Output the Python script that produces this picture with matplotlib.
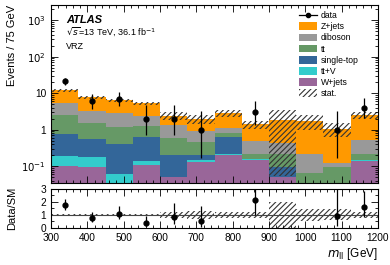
import numpy as np
import matplotlib
matplotlib.use("Agg")
from matplotlib import pyplot as plt
from matplotlib.patches import Patch
from matplotlib.lines import Line2D
from matplotlib.ticker import FixedLocator, MultipleLocator, LogLocator, NullFormatter

plt.rcParams['font.family'] = ['Liberation Sans', 'DejaVu Sans']
plt.rcParams['hatch.linewidth'] = 0.8

# binning (GeV)
edges = np.arange(300, 1201, 75)
centers = 0.5 * (edges[:-1] + edges[1:])

# backgrounds, bottom of the stack first
wjets   = [0.10, 0.092, 0.01, 0.107, 0.051, 0.13, 0.20, 0.15, 0.051, 0.0, 0.0, 0.14]
ttv     = [0.09, 0.088, 0.052, 0.033, 0.0, 0.016, 0.01, 0.01, 0.0, 0.0, 0.0, 0.01]
singtop = [0.56, 0.37, 0.34, 0.50, 0.15, 0.054, 0.43, 0.0, 0.045, 0.0, 0.0, 0.0]
ttbar   = [1.75, 0.99, 0.79, 0.63, 0.37, 0.26, 0.18, 0.05, 0.114, 0.063, 0.096, 0.07]
diboson = [2.7, 1.66, 1.59, 1.12, 0.76, 0.45, 0.30, 0.27, 0.21, 0.157, 0.027, 0.30]
zjets   = [6.8, 4.4, 3.6, 2.8, 1.07, 1.09, 1.78, 0.92, 1.38, 1.53, 0.93, 1.98]
stat_rel = [0.08, 0.08, 0.09, 0.10, 0.25, 0.28, 0.22, 0.25, 0.97, 0.45, 0.42, 0.22]

data    = [21, 6, 7, 2, 2, 1, 0, 3, 0, 0, 1, 4]
err_lo  = [4.55, 2.38, 2.58, 1.29, 1.29, 0.83, 0, 1.63, 0, 0, 0.83, 1.91]
err_hi  = [5.62, 3.58, 3.77, 2.64, 2.64, 2.30, 0, 2.92, 0, 0, 2.30, 3.16]

names  = ['W+jets', 'tt+V', 'single-top', 'tt', 'diboson', 'Z+jets']
colors = ['#996699', '#33cccc', '#336699', '#669966', '#999999', '#ff9900']
samples = [wjets, ttv, singtop, ttbar, diboson, zjets]

fig = plt.figure(figsize=(3.9, 2.65), dpi=100)
ax = fig.add_axes([0.131, 0.309, 0.838, 0.672])
rx = fig.add_axes([0.131, 0.140, 0.838, 0.147])

bottom = np.zeros(len(centers))
for vals, c in zip(samples, colors):
    ax.bar(edges[:-1], vals, width=75, bottom=bottom, align='edge', color=c, linewidth=0)
    bottom = bottom + np.array(vals)
total = bottom

hcol = '#333333'
rel = np.array(stat_rel)
ax.bar(edges[:-1], 2 * rel * total, width=75, bottom=total * (1 - rel), align='edge',
       fill=False, hatch='//////', edgecolor=hcol, linewidth=0)

d = np.array(data, dtype=float)
m = d > 0
ax.errorbar(centers[m], d[m], yerr=[np.array(err_lo)[m], np.array(err_hi)[m]],
            fmt='o', color='black', ms=3.5, elinewidth=0.9, capsize=0)

ax.set_yscale('log')
ax.set_xlim(300, 1200)
ax.set_ylim(0.034, 2600)
ax.set_ylabel('Events / 75 GeV', fontsize=8, loc='top')

def logfmt(v, pos):
    if abs(v - 1) < 1e-9:
        return '1'
    if abs(v - 10) < 1e-9:
        return '10'
    return r'$10^{%d}$' % round(np.log10(v))

ax.yaxis.set_major_locator(FixedLocator([0.1, 1, 10, 100, 1000]))
ax.yaxis.set_major_formatter(logfmt)
ax.yaxis.set_minor_locator(LogLocator(base=10, subs=np.arange(2, 10)))
ax.yaxis.set_minor_formatter(NullFormatter())
ax.xaxis.set_major_locator(MultipleLocator(100))
ax.xaxis.set_minor_locator(MultipleLocator(20))
ax.tick_params(labelbottom=False)

for a in (ax, rx):
    a.tick_params(which='both', direction='in', top=True, right=True, labelsize=7.3, width=0.6)
    a.tick_params(which='major', length=5)
    a.tick_params(which='minor', length=2.5)
    for s in a.spines.values():
        s.set_linewidth(0.8)

ax.text(0.045, 0.90, 'ATLAS', transform=ax.transAxes, fontsize=8, fontweight='bold', style='italic')
ax.text(0.045, 0.83, r'$\sqrt{s}$=13 TeV, 36.1 fb$^{-1}$', transform=ax.transAxes, fontsize=6.5)
ax.text(0.045, 0.755, 'VRZ', transform=ax.transAxes, fontsize=6.5)

handles = [Line2D([], [], marker='o', color='black', ms=3, lw=0.9)]
labels = ['data']
for n, c in zip(names[::-1], colors[::-1]):
    handles.append(Patch(facecolor=c, linewidth=0))
    labels.append(n)
handles.append(Patch(facecolor='white', hatch='//////', edgecolor=hcol, linewidth=0))
labels.append('stat.')
ax.legend(handles, labels, loc='upper right', bbox_to_anchor=(0.96, 1.0), fontsize=6.2,
          frameon=False, handlelength=2.0, handleheight=1.0, labelspacing=0.25,
          handletextpad=0.5, borderaxespad=0.3)

# ratio panel
ratio = d / total
rx.bar(edges[:-1], 2 * rel, width=75, bottom=1 - rel, align='edge',
       fill=False, hatch='//////', edgecolor=hcol, linewidth=0)
rx.axhline(1, color='#444444', lw=0.8)
rx.errorbar(centers[m], ratio[m], yerr=[np.array(err_lo)[m] / total[m], np.array(err_hi)[m] / total[m]],
            fmt='o', color='black', ms=3.5, elinewidth=0.9, capsize=0)
rx.set_xlim(300, 1200)
rx.set_ylim(0, 3)
rx.yaxis.set_major_locator(FixedLocator([0, 1, 2, 3]))
rx.yaxis.set_minor_locator(MultipleLocator(0.5))
rx.xaxis.set_major_locator(MultipleLocator(100))
rx.xaxis.set_minor_locator(MultipleLocator(20))
rx.set_ylabel('Data/SM', fontsize=8)
rx.set_xlabel(r'$m_{\mathrm{ll}}$ [GeV]', fontsize=8.5, loc='right', labelpad=2)
rx.yaxis.set_label_coords(-0.105, 0.5)
ax.yaxis.set_label_coords(-0.105, 1.0)

fig.savefig('out.png', dpi=100)
